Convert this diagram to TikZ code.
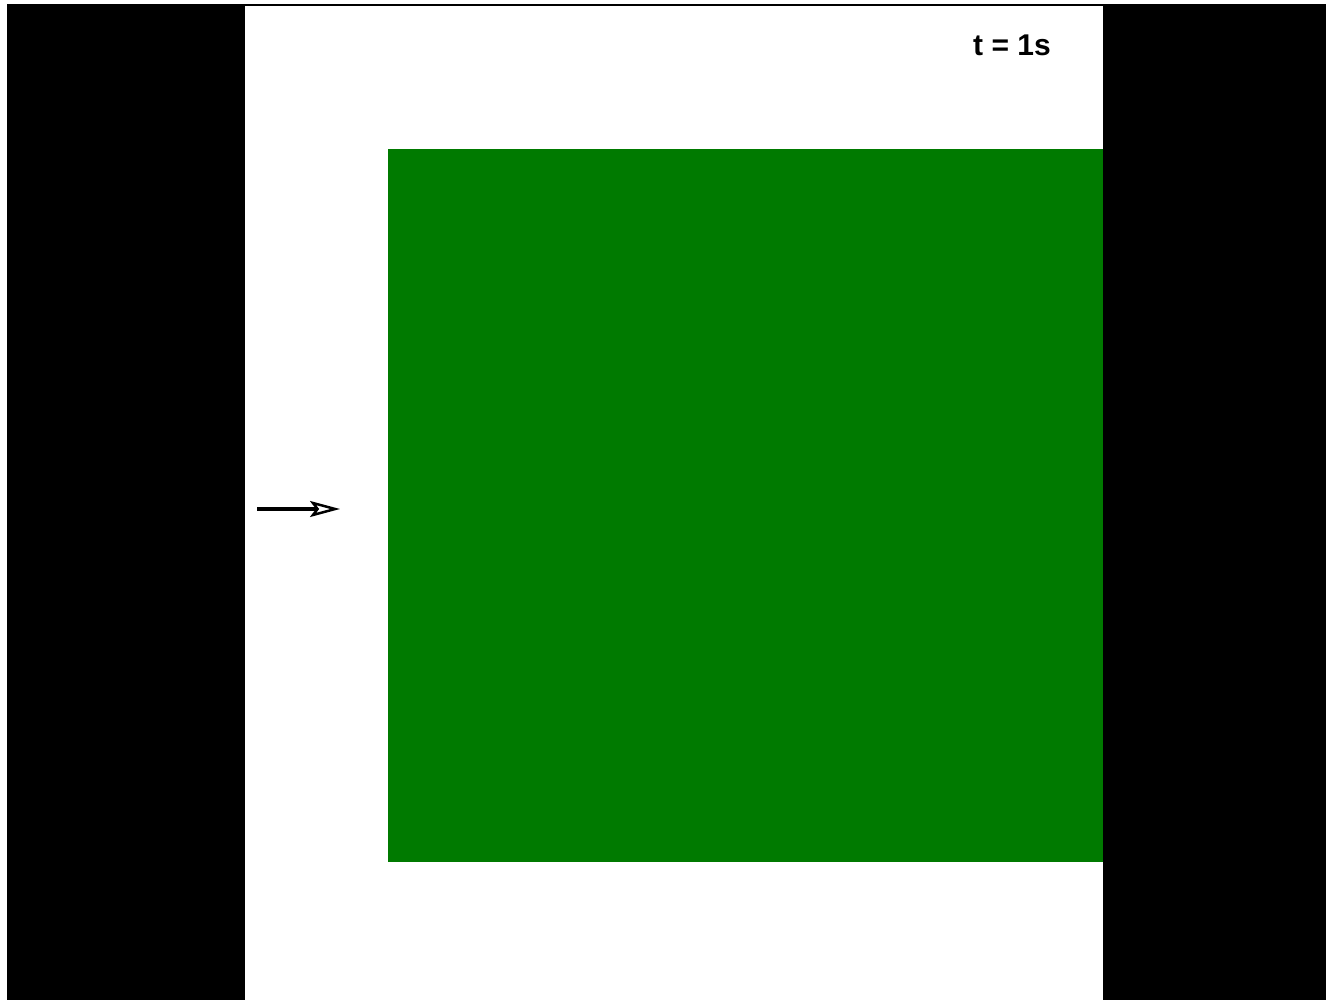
\documentclass[tikz,border=0pt]{standalone}
\usepackage{fontspec}
\setmainfont{Liberation Sans}
\usetikzlibrary{arrows.meta, positioning}
\definecolor{blockgreen}{RGB}{0,122,0}

\begin{document}
\begin{tikzpicture}[
    x=1pt, y=-1pt,
    every node/.style={inner sep=0pt, outer sep=0pt},
    frame/.style={fill=black},
    stage/.style={fill=white},
    block/.style={rectangle, fill=blockgreen, minimum width=715pt, minimum height=713pt, anchor=north west},
    label/.style={font=\fontsize{30}{34}\selectfont\bfseries},
    flow/.style={-{Stealth[open, fill=white, length=30pt, width=16pt, inset=6pt, line width=2.5pt]}, line width=3.5pt}
]

\useasboundingbox (0,0) rectangle (1326,1000);
\fill[white] (0,0) rectangle (1326,1000);
\fill[frame] (7,4) rectangle (1326,1000);
\fill[stage] (245,6) rectangle (1103,1000);

\node[block] (square) at (388,149) {};
\node[label] (clock) at (1012,45) {t = 1s};

\coordinate (inlet) at (257,509);
\coordinate (tip) at (340,509);
\draw[flow] (inlet) -- (tip);

\end{tikzpicture}
\end{document}
